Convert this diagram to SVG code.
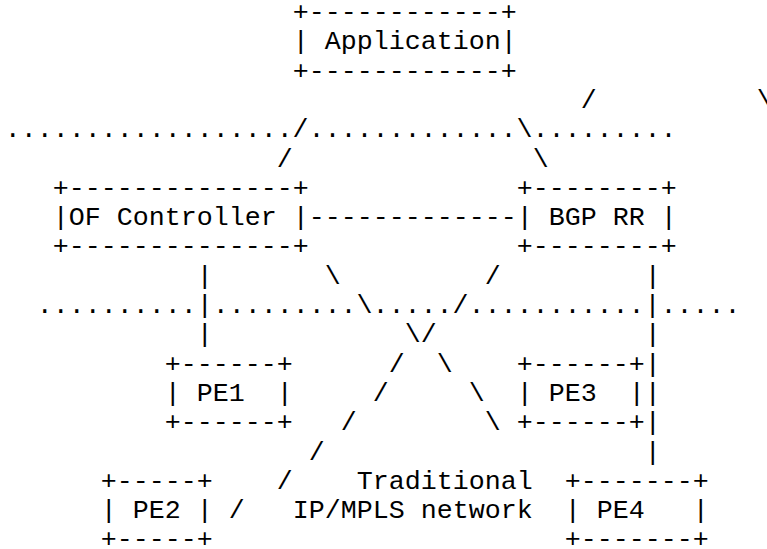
<svg xmlns="http://www.w3.org/2000/svg" width="767" height="549" viewBox="0 0 767 549">
  <style>
    text { font-family: "Liberation Mono", "Courier New", monospace; font-size: 26.667px; fill: #000; white-space: pre; }
  </style>
  <rect width="767" height="549" fill="#fff"/>
  <!-- character grid: 16px columns starting at x=4.7, 29.3px rows, first baseline y=20 -->

  <g id="connectors">
    <text x="580.7" y="107.9">/</text>
    <text x="756.7" y="107.9">\</text>
    <text x="4.7" y="137.2">................../.............\.........</text>
    <text x="276.7" y="166.5">/</text>
    <text x="532.7" y="166.5">\</text>
    <text x="308.7" y="225.1">-------------</text>
    <text x="196.7" y="283.7">|</text>
    <text x="324.7" y="283.7">\</text>
    <text x="484.7" y="283.7">/</text>
    <text x="644.7" y="283.7">|</text>
    <text x="36.7" y="313">..........|.........\...../...........|.....</text>
    <text x="196.7" y="342.3">|</text>
    <text x="404.7" y="342.3">\/</text>
    <text x="644.7" y="342.3">|</text>
    <text x="388.7" y="371.6">/</text>
    <text x="436.7" y="371.6">\</text>
    <text x="644.7" y="371.6">|</text>
    <text x="372.7" y="400.9">/</text>
    <text x="468.7" y="400.9">\</text>
    <text x="644.7" y="400.9">|</text>
    <text x="340.7" y="430.2">/</text>
    <text x="484.7" y="430.2">\</text>
    <text x="644.7" y="430.2">|</text>
    <text x="308.7" y="459.5">/</text>
    <text x="644.7" y="459.5">|</text>
    <text x="276.7" y="488.8">/</text>
    <text x="228.7" y="518.1">/</text>
  </g>

  <g id="application">
    <text x="292.7" y="20">+------------+</text>
    <text x="292.7" y="49.3">| Application|</text>
    <text x="292.7" y="78.6">+------------+</text>
  </g>

  <g id="of-controller">
    <text x="52.7" y="195.8">+--------------+</text>
    <text x="52.7" y="225.1">|OF Controller |</text>
    <text x="52.7" y="254.4">+--------------+</text>
  </g>

  <g id="bgp-rr">
    <text x="516.7" y="195.8">+--------+</text>
    <text x="516.7" y="225.1">| BGP RR |</text>
    <text x="516.7" y="254.4">+--------+</text>
  </g>

  <g id="pe1">
    <text x="164.7" y="371.6">+------+</text>
    <text x="164.7" y="400.9">| PE1  |</text>
    <text x="164.7" y="430.2">+------+</text>
  </g>

  <g id="pe3">
    <text x="516.7" y="371.6">+------+</text>
    <text x="516.7" y="400.9">| PE3  |</text>
    <text x="516.7" y="430.2">+------+</text>
  </g>

  <g id="pe2">
    <text x="100.7" y="488.8">+-----+</text>
    <text x="100.7" y="518.1">| PE2 |</text>
    <text x="100.7" y="547.4">+-----+</text>
  </g>

  <g id="pe4">
    <text x="564.7" y="488.8">+-------+</text>
    <text x="564.7" y="518.1">| PE4   |</text>
    <text x="564.7" y="547.4">+-------+</text>
  </g>

  <g id="network-label">
    <text x="356.7" y="488.8">Traditional</text>
    <text x="292.7" y="518.1">IP/MPLS network</text>
  </g>
</svg>
